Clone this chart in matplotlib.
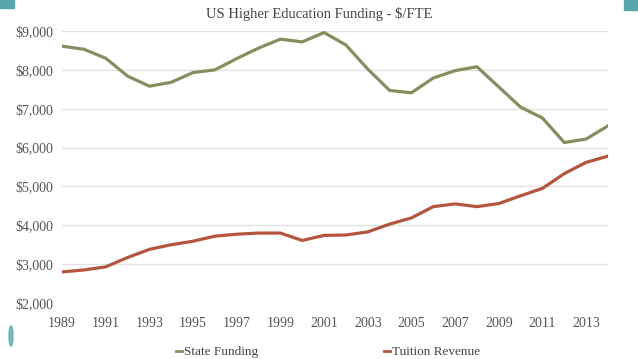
import matplotlib.pyplot as plt
from matplotlib.patches import Rectangle, Ellipse

years = list(range(1989, 2015))
state_funding = [8610, 8530, 8300, 7840, 7580, 7680, 7930, 8000, 8290, 8560,
                 8790, 8720, 8960, 8640, 8020, 7470, 7410, 7790, 7980, 8080,
                 7560, 7040, 6760, 6130, 6220, 6560]
tuition_revenue = [2800, 2850, 2930, 3170, 3380, 3500, 3590, 3720, 3770, 3800,
                   3800, 3610, 3740, 3750, 3830, 4030, 4190, 4480, 4550, 4480,
                   4560, 4760, 4950, 5330, 5620, 5780]
tick_years = list(range(1989, 2014, 2))
y_ticks = list(range(2000, 9001, 1000))

green = '#878d5f'
red = '#b4553d'
teal = '#5aa7ab'

plt.rcParams['font.family'] = ['Liberation Serif', 'DejaVu Serif']

fig = plt.figure(figsize=(6.38, 3.59), dpi=100)
ax = fig.add_axes([62 / 638, 1 - 303 / 359, 546 / 638, 272 / 359])

ax.plot(years, state_funding, color=green, lw=2.3, label='State Funding')
ax.plot(years, tuition_revenue, color=red, lw=2.3, label='Tuition Revenue')

ax.set_xlim(1989, 2014)
ax.set_ylim(2000, 9000)
ax.set_xticks(tick_years)
ax.set_yticks(y_ticks)
ax.set_yticklabels(['${:,}'.format(v) for v in y_ticks])
ax.tick_params(length=0, labelsize=10, labelcolor='#555555')
ax.tick_params(axis='y', pad=6)
ax.tick_params(axis='x', pad=10)
ax.grid(axis='y', color='#e2e2e2', lw=1)
ax.set_axisbelow(True)
for s in ax.spines.values():
    s.set_visible(False)

fig.text(0.5, 1 - 14 / 359, 'US Higher Education Funding - $/FTE',
         ha='center', va='center', fontsize=10.5, color='#444444')

leg = ax.legend(loc='center', bbox_to_anchor=(328 / 638, 1 - 352 / 359),
                bbox_transform=fig.transFigure, ncol=2, frameon=False,
                handlelength=0.45, handletextpad=0.1, columnspacing=9.6,
                fontsize=9.5)
for t in leg.get_texts():
    t.set_color('#444444')
for h in leg.get_lines():
    h.set_linewidth(2)

# decorative slide accents
fig.patches.append(Rectangle((0, 1 - 8 / 359), 14 / 638, 8 / 359,
                             transform=fig.transFigure, color=teal))
fig.patches.append(Rectangle((624 / 638, 1 - 10 / 359), 14 / 638, 10 / 359,
                             transform=fig.transFigure, color=teal))
fig.patches.append(Ellipse((11 / 638, 1 - 336 / 359), 4 / 638, 20 / 359,
                           angle=0, transform=fig.transFigure, color=teal,
                           alpha=0.8))

fig.savefig('out.png', dpi=100)
